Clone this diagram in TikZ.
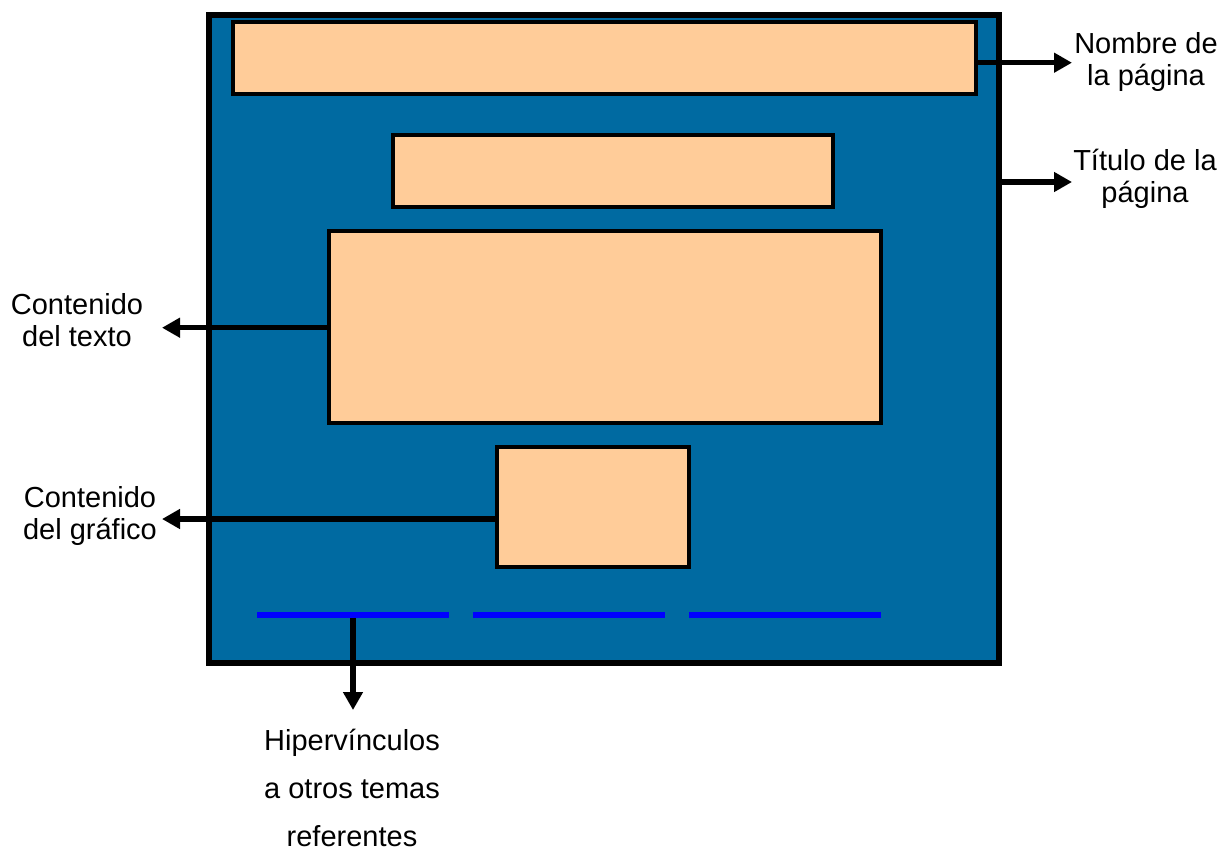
\documentclass[tikz,border=0pt]{standalone}
\usepackage{fontspec}
\setmainfont{Liberation Sans}
\usetikzlibrary{arrows.meta}
\definecolor{framefill}{RGB}{0,106,161}
\definecolor{peach}{RGB}{255,204,153}
\definecolor{linkblue}{RGB}{0,0,255}
\begin{document}
\begin{tikzpicture}[x=1pt,y=-1pt,
  pagebox/.style={draw=black,line width=6pt,fill=framefill,inner sep=0,outer sep=0},
  fieldbox/.style={draw=black,line width=4pt,fill=peach,inner sep=0,outer sep=0},
  linkbar/.style={fill=linkblue,inner sep=0,outer sep=0,minimum height=6pt,minimum width=192pt},
  label/.style={font=\fontsize{29}{32.5}\selectfont,align=center,inner sep=0},
  pointer/.style={line width=5.5pt,-{Triangle[length=18pt,width=19pt]}}]
\useasboundingbox (0,0) rectangle (1223,846);
% page frame
\node[pagebox,minimum width=789.5pt,minimum height=648pt] (page) at (603.75,339) {};
% fields
\node[fieldbox,minimum width=743.3pt,minimum height=72.3pt] (nombre) at (604.65,58.15) {};
\node[fieldbox,minimum width=439.5pt,minimum height=71.7pt] (titulo) at (612.75,171.15) {};
\node[fieldbox,minimum width=552pt,minimum height=191.7pt] (texto) at (605,327.15) {};
\node[fieldbox,minimum width=192pt,minimum height=119.4pt] (grafico) at (593,507) {};
% hyperlink bars
\node[linkbar] (link1) at (353,615) {};
\node[linkbar] (link2) at (569,615) {};
\node[linkbar] (link3) at (785,615) {};
% labels
\node[label] (lblNombre) at (1146,62) {Nombre de\\la página};
\node[label] (lblTitulo) at (1145,179) {Título de la\\página};
\node[label] (lblTexto) at (77,320) {Contenido\\del texto};
\node[label] (lblGrafico) at (90,516) {Contenido\\del gráfico};
\node[label,font=\fontsize{29}{48}\selectfont,anchor=north] (lblLinks) at (352,729) {Hipervínculos\\a otros temas\\referentes};
% arrow tips
\coordinate (tipNombre) at (1072,62.7);
\coordinate (tipTitulo) at (1072,182);
\coordinate (tipTexto) at (162,327.7);
\coordinate (tipGrafico) at (162,519);
\coordinate (tipLinks) at (353,710);
% connectors
\draw[pointer] (nombre.east |- tipNombre) -- (tipNombre);
\draw[pointer] (page.east |- tipTitulo) -- (tipTitulo);
\draw[pointer] (texto.west |- tipTexto) -- (tipTexto);
\draw[pointer] (grafico.west |- tipGrafico) -- (tipGrafico);
\draw[pointer] (link1.south) -- (tipLinks);
\end{tikzpicture}
\end{document}
